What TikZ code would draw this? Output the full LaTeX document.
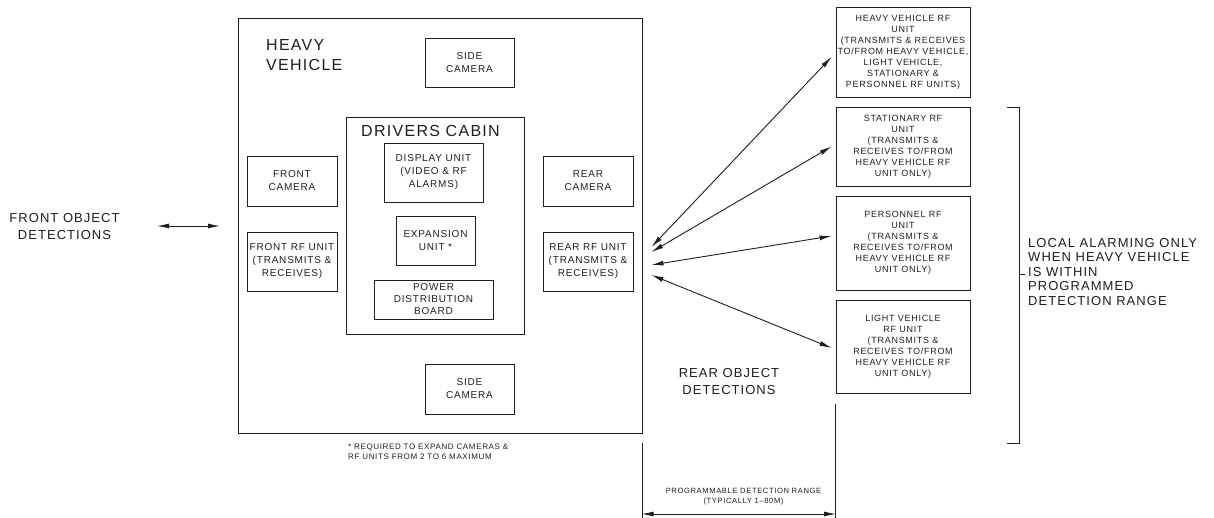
\documentclass[tikz,border=0pt]{standalone}
\usepackage{fontspec}
\setmainfont{Liberation Sans}[LetterSpace=8]
\usetikzlibrary{arrows.meta,calc}
\definecolor{ink}{HTML}{1E1E1E}
\begin{document}
\begin{tikzpicture}[x=1pt,y=-1pt,
  every node/.style={text=ink},
  box/.style={draw=ink,line width=0.9pt,align=center,inner sep=1pt},
  midtxt/.style={font=\fontsize{10}{13}\selectfont},
  smalltxt/.style={font=\fontsize{9}{11}\selectfont},
  bigtxt/.style={font=\fontsize{16}{20}\selectfont},
  lbltxt/.style={font=\fontsize{13}{17}\selectfont},
  tinytxt/.style={font=\fontsize{7.6}{10}\selectfont},
  dim/.style={draw=ink,line width=0.9pt},
  conn/.style={draw=ink,line width=0.9pt,{Latex[length=12pt,width=5pt]}-{Latex[length=12pt,width=5pt]}}
]
\useasboundingbox (0,0) rectangle (1214,518);

% heavy vehicle
\node[box,minimum width=404,minimum height=415] (hv) at (440,225.5) {};
\node[bigtxt,align=left,anchor=west,inner sep=0] (hvl) at (266,55) {HEAVY\\VEHICLE};
\node[box,midtxt,minimum width=89,minimum height=49] (sidetop) at (469.5,62.5) {SIDE\\CAMERA};
\node[box,minimum width=178,minimum height=217] (cabin) at (435,225.5) {};
\node[bigtxt,inner sep=0] (cabinl) at (430.5,130.5) {DRIVERS CABIN};
\node[box,midtxt,minimum width=99,minimum height=59] (disp) at (433.5,172.5) {DISPLAY UNIT\\(VIDEO \& RF\\ALARMS)};
\node[box,midtxt,minimum width=79,minimum height=49] (exp) at (435.5,240.5) {EXPANSION\\UNIT *};
\node[box,minimum width=119,minimum height=39,font=\fontsize{10}{12}\selectfont] (pdb) at (433.5,299.5) {POWER\\DISTRIBUTION\\BOARD};
\node[box,midtxt,minimum width=90,minimum height=50] (fcam) at (292,181) {FRONT\\CAMERA};
\node[box,midtxt,minimum width=90,minimum height=59] (frf) at (292,261.5) {FRONT RF UNIT\\(TRANSMITS \&\\RECEIVES)};
\node[box,midtxt,minimum width=90,minimum height=50] (rcam) at (588,181) {REAR\\CAMERA};
\node[box,midtxt,minimum width=90,minimum height=59] (rrf) at (588,261.5) {REAR RF UNIT\\(TRANSMITS \&\\RECEIVES)};
\node[box,midtxt,minimum width=89,minimum height=50] (sidebot) at (469.5,389) {SIDE\\CAMERA};

% other RF units
\node[box,smalltxt,minimum width=134,minimum height=90] (hvrf) at (903,52) {HEAVY VEHICLE RF\\UNIT\\(TRANSMITS \& RECEIVES\\TO/FROM HEAVY VEHICLE,\\LIGHT VEHICLE,\\STATIONARY \&\\PERSONNEL RF UNITS)};
\node[box,smalltxt,minimum width=134,minimum height=79] (stat) at (903,146.5) {STATIONARY RF\\UNIT\\(TRANSMITS \&\\RECEIVES TO/FROM\\HEAVY VEHICLE RF\\UNIT ONLY)};
\node[box,smalltxt,minimum width=134,minimum height=94] (pers) at (903,243) {PERSONNEL RF\\UNIT\\(TRANSMITS \&\\RECEIVES TO/FROM\\HEAVY VEHICLE RF\\UNIT ONLY)};
\node[box,smalltxt,minimum width=134,minimum height=93] (light) at (903,346.5) {LIGHT VEHICLE\\RF UNIT\\(TRANSMITS \&\\RECEIVES TO/FROM\\HEAVY VEHICLE RF\\UNIT ONLY)};

% labels
\node[lbltxt,align=center] (front) at (64.5,226.5) {FRONT OBJECT\\DETECTIONS};
\node[lbltxt,align=center] (rear) at (729,381.5) {REAR OBJECT\\DETECTIONS};
\node[align=left,anchor=west,inner sep=0,font=\fontsize{13}{14.5}\selectfont] (local) at (1028,272) {LOCAL ALARMING ONLY\\WHEN HEAVY VEHICLE\\IS WITHIN\\PROGRAMMED\\DETECTION RANGE};
\node[font=\fontsize{8}{10}\selectfont,align=left,anchor=west,inner sep=0] (note) at (348,451.5) {* REQUIRED TO EXPAND CAMERAS \&\\RF UNITS FROM 2 TO 6 MAXIMUM};
\node[tinytxt,align=center] (dimtxt) at (743.5,496.5) {PROGRAMMABLE DETECTION RANGE\\(TYPICALLY 1--80M)};

% connectors
\coordinate (f1) at (157,226);
\coordinate (f2) at (220,226);
\draw[conn] (f1) -- (f2);
\coordinate (r1) at ($(rrf.east)+(18,-14.5)$);
\coordinate (r2) at ($(rrf.east)+(18,-9.5)$);
\coordinate (r3) at ($(rrf.east)+(18,3.5)$);
\coordinate (r4) at ($(rrf.east)+(18,13.5)$);
\draw[conn] (r1) -- ([xshift=-4pt,yshift=-5pt]hvrf.west);
\draw[conn] (r2) -- ([xshift=-4pt]stat.west);
\draw[conn] (r3) -- ([xshift=-4pt,yshift=7pt]pers.west);
\draw[conn] (r4) -- ([xshift=-4pt,yshift=-1.5pt]light.west);

% dimension
\draw[dim] ([yshift=-10pt]hv.south east) -- ++(0,75);
\draw[dim] ([yshift=-11pt]light.south west) -- ++(0,114);
\coordinate (da) at (641.5,514);
\coordinate (db) at (836,514);
\draw[conn] (da) -- (db);

% bracket
\draw[dim] (1007,107) -- (1019,107) -- (1019,443) -- (1007,443);
\draw[dim] (1019,274) -- (1025,274);
\end{tikzpicture}
\end{document}
